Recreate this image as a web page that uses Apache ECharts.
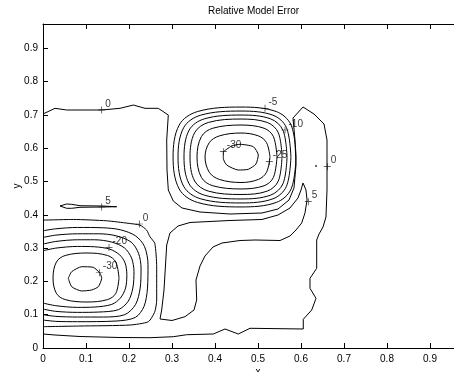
<!DOCTYPE html>
<html><head><meta charset="utf-8">
<script src="https://cdn.jsdelivr.net/npm/echarts@6/dist/echarts.min.js"></script>
<style>html,body{margin:0;padding:0;background:#fff}#c{width:454px;height:372px}</style>
</head><body><div id="c"></div>
<script>
// ---- tick labels ----
const xTickLabels = ['0','0.1','0.2','0.3','0.4','0.5','0.6','0.7','0.8','0.9'];
const yTickLabels = ['0','0.1','0.2','0.3','0.4','0.5','0.6','0.7','0.8','0.9'];

// ---- upper well contours (closed), levels -5 .. -30 ----
const upRing1 = [[0.5885,0.5736],[0.5770,0.6696],[0.5424,0.7101],[0.4605,0.7236],[0.3594,0.7101],[0.3167,0.6696],[0.3025,0.5736],[0.3167,0.4776],[0.3594,0.4371],[0.4605,0.4236],[0.5424,0.4371],[0.5770,0.4776],[0.5885,0.5736]];
const upRing2 = [[0.5765,0.5736],[0.5661,0.6619],[0.5347,0.6992],[0.4605,0.7116],[0.3667,0.6992],[0.3272,0.6619],[0.3140,0.5736],[0.3272,0.4853],[0.3667,0.4480],[0.4605,0.4356],[0.5347,0.4480],[0.5661,0.4853],[0.5765,0.5736]];
const upRing3 = [[0.5675,0.5736],[0.5579,0.6542],[0.5290,0.6883],[0.4605,0.6996],[0.3756,0.6883],[0.3398,0.6542],[0.3279,0.5736],[0.3398,0.4930],[0.3756,0.4589],[0.4605,0.4476],[0.5290,0.4589],[0.5579,0.4930],[0.5675,0.5736]];
const upRing4 = [[0.5558,0.5736],[0.5472,0.6466],[0.5215,0.6773],[0.4605,0.6876],[0.3846,0.6773],[0.3526,0.6466],[0.3419,0.5736],[0.3526,0.5015],[0.3846,0.4711],[0.4605,0.4610],[0.5215,0.4711],[0.5472,0.5015],[0.5558,0.5736]];
const upRing5 = [[0.5442,0.5736],[0.5358,0.6350],[0.5141,0.6600],[0.4605,0.6696],[0.3950,0.6600],[0.3684,0.6350],[0.3582,0.5736],[0.3684,0.5122],[0.3950,0.4872],[0.4605,0.4776],[0.5141,0.4872],[0.5358,0.5122],[0.5442,0.5736]];
const upRing6 = [[0.5279,0.5736],[0.5198,0.6168],[0.5009,0.6370],[0.4605,0.6456],[0.4103,0.6370],[0.3868,0.6168],[0.3768,0.5736],[0.3868,0.5276],[0.4103,0.5062],[0.4605,0.4970],[0.5009,0.5062],[0.5198,0.5276],[0.5279,0.5736]];
const upRing7 = [[0.4193,0.5895],[0.4388,0.6066],[0.4581,0.6117],[0.4891,0.6045],[0.5007,0.5796],[0.4953,0.5526],[0.4774,0.5366],[0.4542,0.5345],[0.4272,0.5495],[0.4193,0.5697],[0.4193,0.5895]];

// ---- lower-left well contours, levels -30 .. 0 ----
const lowM30 = [[0.0588,0.2093],[0.0667,0.2291],[0.0900,0.2441],[0.1170,0.2423],[0.1326,0.2243],[0.1365,0.2093],[0.1286,0.1841],[0.1133,0.1742],[0.0900,0.1712],[0.0667,0.1841],[0.0588,0.2093]];
const lowM25 = [[0.1767,0.2100],[0.1693,0.2582],[0.1499,0.2778],[0.1023,0.2853],[0.0517,0.2778],[0.0312,0.2582],[0.0233,0.2100],[0.0312,0.1640],[0.0517,0.1453],[0.1023,0.1381],[0.1499,0.1453],[0.1693,0.1640],[0.1767,0.2100]];
const lowM20 = [[0,0.292],[0.03,0.300],[0.08,0.305],[0.12,0.304],[0.155,0.297],[0.178,0.280],[0.191,0.255],[0.195,0.220],[0.192,0.180],[0.180,0.150],[0.160,0.131],[0.12,0.123],[0.08,0.122],[0.03,0.127],[0,0.135]];
const lowM15 = [[0,0.312],[0.03,0.320],[0.08,0.325],[0.12,0.325],[0.16,0.318],[0.19,0.300],[0.206,0.270],[0.2116,0.230],[0.209,0.180],[0.198,0.140],[0.175,0.115],[0.13,0.108],[0.08,0.107],[0.03,0.110],[0,0.117]];
const lowM10 = [[0,0.332],[0.03,0.339],[0.08,0.343],[0.13,0.343],[0.17,0.337],[0.205,0.318],[0.222,0.285],[0.228,0.240],[0.226,0.180],[0.215,0.130],[0.19,0.100],[0.14,0.093],[0.08,0.093],[0.03,0.095],[0,0.100]];
const lowM5 = [[0,0.352],[0.03,0.358],[0.08,0.362],[0.14,0.361],[0.18,0.355],[0.215,0.337],[0.236,0.305],[0.2442,0.250],[0.243,0.180],[0.235,0.125],[0.215,0.092],[0.17,0.081],[0.08,0.079],[0.03,0.080],[0,0.084]];
const low0 = [[0,0.384],[0.0705,0.386],[0.148,0.382],[0.198,0.3745],[0.2256,0.369],[0.241,0.354],[0.2488,0.334],[0.26,0.314],[0.2644,0.244],[0.2644,0.144],[0.26,0.109],[0.245,0.079],[0.2023,0.069],[0.086,0.066],[0,0.064]];

// ---- big zero contour ----
const bigZero = [[0,0.7027],[0.0279,0.7198],[0.0551,0.7147],[0.1365,0.7147],[0.1791,0.7198],[0.2100,0.7297],[0.2372,0.7198],[0.2681,0.7198],[0.2914,0.6997],[0.2877,0.6246],[0.2884,0.5345],[0.2914,0.4745],[0.3030,0.4414],[0.3233,0.4204],[0.3651,0.4084],[0.4349,0.4024],[0.5093,0.4054],[0.5465,0.4174],[0.5721,0.4444],[0.5837,0.4805],[0.5884,0.5495],[0.5860,0.6246],[0.5814,0.6907],[0.6047,0.7237],[0.6302,0.7027],[0.6535,0.6727],[0.6605,0.6246],[0.6605,0.4745],[0.6581,0.3934],[0.6512,0.3634],[0.6419,0.3423],[0.6365,0.3243],[0.6365,0.2393],[0.6209,0.2093],[0.6209,0.1793],[0.6349,0.1492],[0.6249,0.1141],[0.6053,0.0862],[0.6053,0.0571],[0.4814,0.0592],[0.4542,0.0420],[0.4233,0.0571],[0.3960,0.0420],[0.3342,0.0399],[0.3030,0.0339],[0.2488,0.0309],[0.1791,0.0315],[0.0860,0.0345],[0.0279,0.0390],[0,0.0420]];

// ---- level 5 contours ----
const finger5 = [[0.6047,0.4955],[0.6116,0.4745],[0.6140,0.4444],[0.6093,0.4054],[0.6016,0.3754],[0.5884,0.3544],[0.5744,0.3363],[0.5512,0.3228],[0.4930,0.3243],[0.4581,0.3228],[0.4163,0.3153],[0.3953,0.3033],[0.3767,0.2763],[0.3651,0.2462],[0.3558,0.2042],[0.3574,0.1441],[0.3512,0.1141],[0.3302,0.0940],[0.3000,0.0826],[0.2721,0.0871],[0.2760,0.1141],[0.2814,0.1742],[0.2877,0.3093],[0.2953,0.3453],[0.3140,0.3664],[0.3419,0.3769],[0.4349,0.3829],[0.5093,0.3859],[0.5465,0.3994],[0.5744,0.4204],[0.5930,0.4505],[0.6000,0.4745],[0.6047,0.4955]];
const lens5 = [[0.0395,0.4264],[0.055,0.4324],[0.0667,0.4315],[0.086,0.4273],[0.1365,0.4264],[0.1714,0.4243],[0.1365,0.4234],[0.086,0.4225],[0.0667,0.4195],[0.055,0.4195],[0.0395,0.4264]];
const dotZero = [[0.635,0.5465]];

// ---- contour labels ----
const labelText = ['0','5','0','-20','-30','-5','-10','-30','-25','0','5'];
const labelX = [0.1365,0.1365,0.2240,0.1535,0.1310,0.5163,0.5628,0.4193,0.5263,0.6612,0.6170];
const labelY = [0.7150,0.4234,0.3724,0.3020,0.2260,0.7198,0.6547,0.5895,0.5595,0.5444,0.4393];

const FONT = 'Liberation Sans, Arial, Helvetica, sans-serif';
function contour(data, smooth) {
  return {type:'line', data:data, showSymbol:false, symbol:'none', smooth:smooth||false,
    lineStyle:{color:'#000', width:1}, silent:true, z:3};
}
const ringSmooth = 0.35;
const series = [
  contour(upRing1, ringSmooth), contour(upRing2, ringSmooth), contour(upRing3, ringSmooth),
  contour(upRing4, ringSmooth), contour(upRing5, ringSmooth), contour(upRing6, ringSmooth),
  contour(upRing7, 0.2),
  contour(lowM30, 0.2), contour(lowM25, ringSmooth), contour(lowM20, 0.3), contour(lowM15, 0.3),
  contour(lowM10, 0.3), contour(lowM5, 0.3), contour(low0, 0.2),
  contour(bigZero, false), contour(finger5, false), contour(lens5, false),
  {type:'scatter', data:dotZero, symbol:'circle', symbolSize:2, itemStyle:{color:'#000'}, silent:true},
  {type:'scatter', silent:true, z:5,
    data: labelText.map((t,i)=>({value:[labelX[i],labelY[i]], name:t})),
    symbol:'path://M0,4.5L10,4.5L10,5.5L0,5.5Z M4.5,0L5.5,0L5.5,10L4.5,10Z',
    symbolSize:7, itemStyle:{color:'#000'},
    label:{show:true, position:'right', distance:0, offset:[0,-6], formatter:p=>p.name,
      color:'#000', fontSize:10, fontFamily:FONT}}
];

function tickFmt(labels){
  return function(v){
    const k = Math.round(v*10);
    if (Math.abs(v*10-k) > 1e-6) return '';
    return labels[k] !== undefined ? labels[k] : '';
  };
}
const axisCommon = {
  type:'value', min:0, interval:0.1,
  axisLine:{show:true, lineStyle:{color:'#000', width:1}},
  axisTick:{show:true, inside:true, length:5, lineStyle:{color:'#000'}},
  splitLine:{show:false},
  nameMoveOverlap:false,
  nameTextStyle:{color:'#000', fontSize:10, fontFamily:FONT}
};
const chart = echarts.init(document.getElementById('c'), null, {renderer:'canvas'});
chart.setOption({
  animation:false,
  backgroundColor:'#fff',
  title:{text:'Relative Model Error', left:203, top:1,
    textStyle:{color:'#000', fontSize:10, fontWeight:'normal', fontFamily:FONT}},
  grid:{left:43, top:24, width:430, height:324, containLabel:false, outerBoundsMode:'none'},
  xAxis:[
    Object.assign({}, axisCommon, {max:1, position:'bottom', name:'x', nameLocation:'middle', nameGap:19,
      axisLabel:{color:'#000', fontSize:10, fontFamily:FONT, margin:6, formatter:tickFmt(xTickLabels)}}),
    Object.assign({}, axisCommon, {max:1, position:'top', axisLabel:{show:false}})
  ],
  yAxis:[
    Object.assign({}, axisCommon, {max:0.973, position:'left', name:'y', nameLocation:'middle', nameGap:21, nameRotate:90,
      axisLabel:{color:'#000', fontSize:10, fontFamily:FONT, margin:5, formatter:tickFmt(yTickLabels), showMaxLabel:false}})
  ],
  series: series
});
</script></body></html>
